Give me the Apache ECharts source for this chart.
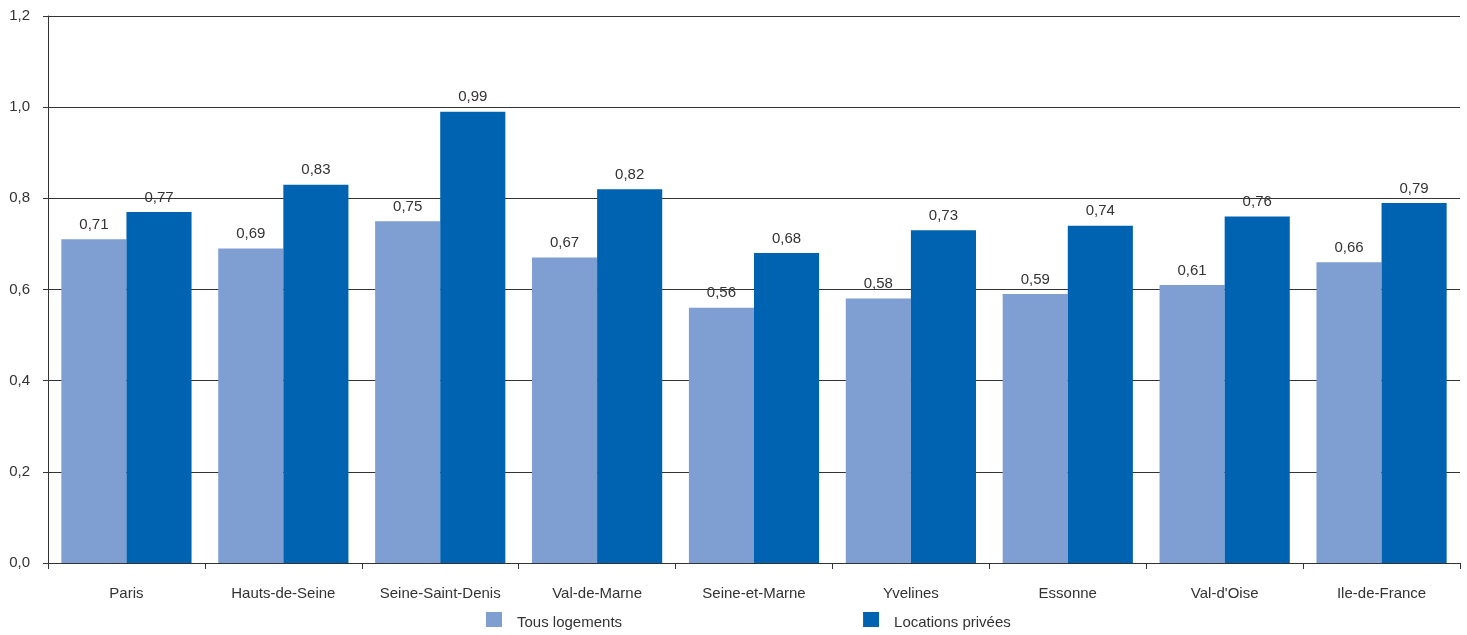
<!DOCTYPE html>
<html>
<head>
<meta charset="utf-8">
<script src="https://cdn.jsdelivr.net/npm/echarts@6/dist/echarts.min.js"></script>
<style>
  html, body { margin: 0; padding: 0; background: #fff; }
  #chart { width: 1467px; height: 635px; }
</style>
</head>
<body>
<div id="chart"></div>
<script>
const categories = ['Paris', 'Hauts-de-Seine', 'Seine-Saint-Denis', 'Val-de-Marne', 'Seine-et-Marne', 'Yvelines', 'Essonne', "Val-d'Oise", 'Ile-de-France'];
const tousLogements = [0.71, 0.69, 0.75, 0.67, 0.56, 0.58, 0.59, 0.61, 0.66];
const locationsPrivees = [0.77, 0.83, 0.99, 0.82, 0.68, 0.73, 0.74, 0.76, 0.79];
const seriesNames = ['Tous logements', 'Locations privées'];

const fmt = v => v.toFixed(2).replace('.', ',');
const font = 'Liberation Sans, Arial, sans-serif';
const ink = '#333';

const chart = echarts.init(document.getElementById('chart'));
chart.setOption({
  animation: false,
  textStyle: { fontFamily: font },
  grid: { left: 48, right: 7, top: 16, bottom: 72 },
  legend: {
    data: seriesNames,
    icon: 'rect',
    left: 486, top: 612, padding: 0,
    itemWidth: 16, itemHeight: 15, itemGap: 241,
    formatter: name => '{t|' + name + '}',
    textStyle: {
      fontSize: 15, color: ink, fontFamily: font, padding: [0, 0, 0, 10],
      rich: { t: { fontSize: 15, color: ink, fontFamily: font, padding: [7, 0, 0, 0] } }
    }
  },
  xAxis: {
    type: 'category',
    data: categories,
    axisLine: { lineStyle: { color: ink, width: 1 } },
    axisTick: { show: true, interval: 0, length: 6, lineStyle: { color: ink } },
    axisLabel: { interval: 0, fontSize: 15, color: ink, margin: 23, fontFamily: font }
  },
  yAxis: {
    type: 'value',
    min: 0, max: 1.2, interval: 0.2,
    axisLine: { show: true, lineStyle: { color: ink, width: 1 } },
    axisTick: { show: true, length: 5, lineStyle: { color: ink } },
    axisLabel: { fontSize: 15, color: ink, margin: 18, fontFamily: font,
      formatter: v => v.toFixed(1).replace('.', ',') },
    splitLine: { lineStyle: { color: ink, width: 1 } }
  },
  series: [
    {
      name: seriesNames[0], type: 'bar', data: tousLogements,
      barGap: '0%', barCategoryGap: '17%',
      itemStyle: { color: '#7f9fd3' },
      label: { show: true, position: 'top', distance: 7, fontSize: 15, color: ink, fontFamily: font,
        formatter: p => fmt(p.value) }
    },
    {
      name: seriesNames[1], type: 'bar', data: locationsPrivees,
      barGap: '0%', barCategoryGap: '17%',
      itemStyle: { color: '#0063b1' },
      label: { show: true, position: 'top', distance: 7, fontSize: 15, color: ink, fontFamily: font,
        formatter: p => fmt(p.value) }
    }
  ]
});
</script>
</body>
</html>
